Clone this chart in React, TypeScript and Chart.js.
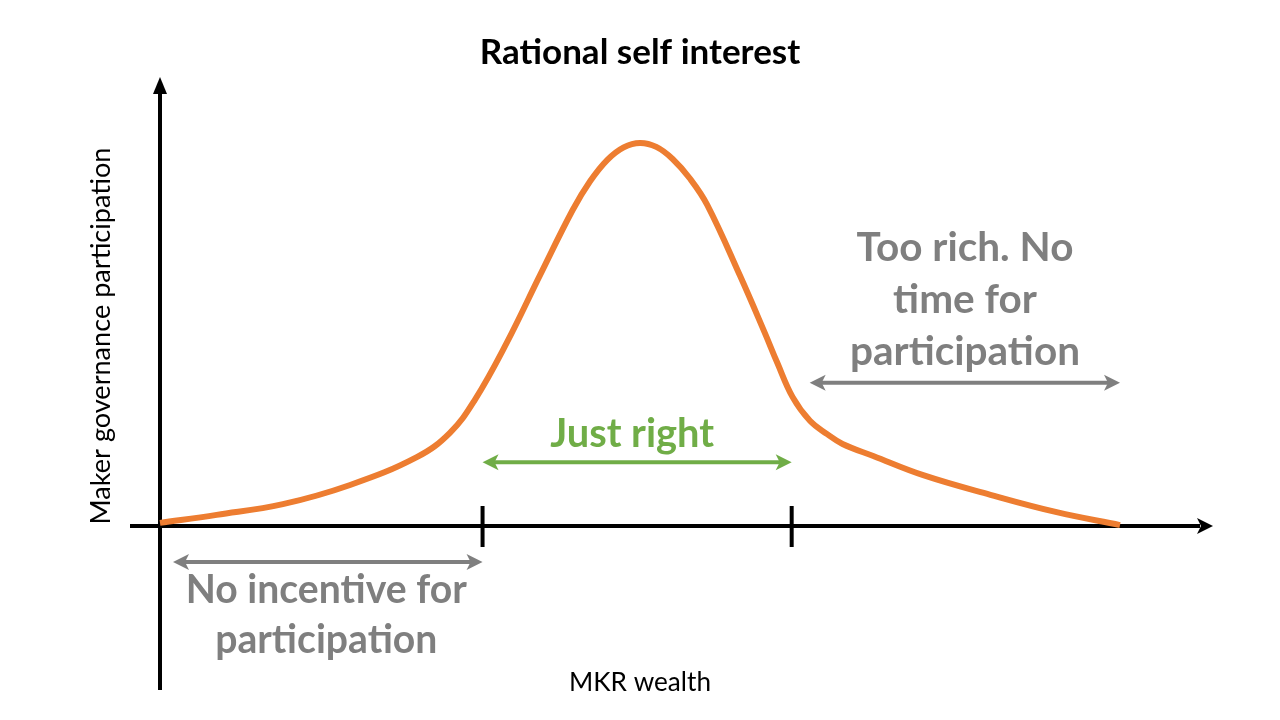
import React, { useEffect, useRef } from "react";
import { Chart, registerables } from "chart.js";

Chart.register(...registerables);

// Curve: MKR wealth (x) vs governance participation (y)
const wealth = [0, 5.9, 12.8, 19.8, 26.8, 30.2, 32.8, 36.1, 39.6, 43.0, 44.8, 46.6, 48.3, 50.0, 51.7, 53.4, 55.2, 57.0, 60.4, 63.0, 64.3, 65.9, 67.7, 69.5, 71.1, 74.3, 79.5, 86.5, 93.4, 100];
const participation = [0.7, 2.5, 4.9, 9.2, 15.5, 20.9, 28.3, 41.0, 56.3, 70.9, 77.3, 82.1, 84.9, 85.9, 85.0, 82.3, 77.9, 72.0, 56.2, 43.3, 36.6, 28.9, 23.6, 20.6, 18.4, 15.7, 11.4, 7.0, 3.1, 0.2];

// Zone boundaries on the wealth axis (tick marks)
const zoneBounds = [33.6, 65.8];

const titleText = "Rational self interest";
const xAxisLabel = "MKR wealth";
const yAxisLabel = "Maker governance participation";
const middleLabel = ["Just right"];
const rightLabel = ["Too rich. No", "time for", "participation"];
const leftLabel = ["No incentive for", "participation"];

const ORANGE = "#ED7D31";
const GREEN = "#70AD47";
const GRAY = "#7F7F7F";
const FONT = "Lato, 'Open Sans', sans-serif";

function fitFont(ctx: CanvasRenderingContext2D, text: string, weight: string, target: number) {
  ctx.font = `${weight} 40px ${FONT}`;
  const w = ctx.measureText(text).width;
  return (40 * target) / w;
}

function drawLines(
  ctx: CanvasRenderingContext2D,
  lines: string[],
  cx: number,
  cy: number,
  lineH: number,
  size: number,
  weight: string,
  color: string
) {
  ctx.save();
  ctx.font = `${weight} ${size}px ${FONT}`;
  ctx.fillStyle = color;
  ctx.textAlign = "center";
  ctx.textBaseline = "middle";
  lines.forEach((l, i) => ctx.fillText(l, cx, cy + i * lineH));
  ctx.restore();
}

function arrowHead(ctx: CanvasRenderingContext2D, tx: number, ty: number, dir: "l" | "r", len: number, half: number) {
  ctx.beginPath();
  if (dir === "r") {
    ctx.moveTo(tx, ty);
    ctx.lineTo(tx - len, ty - half);
    ctx.lineTo(tx - len * 0.75, ty);
    ctx.lineTo(tx - len, ty + half);
  } else {
    ctx.moveTo(tx, ty);
    ctx.lineTo(tx + len, ty - half);
    ctx.lineTo(tx + len * 0.75, ty);
    ctx.lineTo(tx + len, ty + half);
  }
  ctx.closePath();
  ctx.fill();
}

function doubleArrow(ctx: CanvasRenderingContext2D, x1: number, x2: number, y: number, color: string) {
  ctx.save();
  ctx.strokeStyle = color;
  ctx.fillStyle = color;
  ctx.lineWidth = 4;
  ctx.beginPath();
  ctx.moveTo(x1 + 8, y);
  ctx.lineTo(x2 - 8, y);
  ctx.stroke();
  arrowHead(ctx, x1, y, "l", 16, 8);
  arrowHead(ctx, x2, y, "r", 16, 8);
  ctx.restore();
}

const axesPlugin = {
  id: "customAxes",
  beforeDatasetsDraw(chart: any) {
    const ctx = chart.ctx as CanvasRenderingContext2D;
    const xs = chart.scales.x;
    const ys = chart.scales.y;
    const x0 = xs.getPixelForValue(0);
    const y0 = ys.getPixelForValue(0);
    ctx.save();
    ctx.strokeStyle = "#000";
    ctx.fillStyle = "#000";
    ctx.lineWidth = 4;
    // x axis
    ctx.beginPath();
    ctx.moveTo(x0 - 30, y0);
    ctx.lineTo(xs.right + 80, y0);
    ctx.stroke();
    arrowHead(ctx, xs.right + 93, y0, "r", 16, 8);
    // y axis
    ctx.beginPath();
    ctx.moveTo(x0, y0 + 164);
    ctx.lineTo(x0, ys.top + 10);
    ctx.stroke();
    ctx.beginPath();
    ctx.moveTo(x0, ys.top - 3);
    ctx.lineTo(x0 - 7, ys.top + 14);
    ctx.lineTo(x0 + 7, ys.top + 14);
    ctx.closePath();
    ctx.fill();
    // zone ticks
    zoneBounds.forEach((v) => {
      const px = xs.getPixelForValue(v);
      ctx.beginPath();
      ctx.moveTo(px, y0 - 20);
      ctx.lineTo(px, y0 + 21);
      ctx.stroke();
    });
    ctx.restore();
  },
  afterDatasetsDraw(chart: any) {
    const ctx = chart.ctx as CanvasRenderingContext2D;
    const xs = chart.scales.x;
    const ys = chart.scales.y;
    const x0 = xs.getPixelForValue(0);
    const y0 = ys.getPixelForValue(0);
    const b1 = xs.getPixelForValue(zoneBounds[0]);
    const b2 = xs.getPixelForValue(zoneBounds[1]);
    const xEnd = xs.getPixelForValue(100);

    // arrows
    doubleArrow(ctx, b1, b2, ys.getPixelForValue(14.3), GREEN);
    doubleArrow(ctx, b2 + 18, xEnd, ys.getPixelForValue(32.1), GRAY);
    doubleArrow(ctx, x0 + 13, b1, y0 + 36, GRAY);

    // labels
    const gSize = fitFont(ctx, middleLabel[0], "bold", 164);
    drawLines(ctx, middleLabel, (b1 + b2) / 2 - 5, ys.getPixelForValue(20.5), 52, gSize, "bold", GREEN);

    const rSize = fitFont(ctx, rightLabel[2], "bold", 230);
    drawLines(ctx, rightLabel, 965, ys.getPixelForValue(62.3), 52, rSize, "bold", GRAY);

    const lSize = fitFont(ctx, leftLabel[0], "bold", 281);
    drawLines(ctx, leftLabel, (x0 + b1) / 2 + 5, y0 + 64, 50, lSize, "bold", GRAY);

    const xlSize = fitFont(ctx, xAxisLabel, "normal", 142);
    drawLines(ctx, [xAxisLabel], (xs.left + xs.right) / 2, y0 + 157, 0, xlSize, "normal", "#000");

    const ylSize = fitFont(ctx, yAxisLabel, "normal", 377);
    ctx.save();
    ctx.translate(101, y0 - 190);
    ctx.rotate(-Math.PI / 2);
    drawLines(ctx, [yAxisLabel], 0, 0, 0, ylSize, "normal", "#000");
    ctx.restore();
  },
};

export default function App() {
  const ref = useRef<HTMLCanvasElement | null>(null);
  useEffect(() => {
    if (!ref.current) return;
    const chart = new Chart(ref.current, {
      type: "scatter",
      data: {
        datasets: [
          {
            data: wealth.map((w, i) => ({ x: w, y: participation[i] })),
            showLine: true,
            borderColor: ORANGE,
            borderWidth: 6,
            pointRadius: 0,
            tension: 0.4,
            clip: false as any,
            borderCapStyle: "butt",
            borderJoinStyle: "round",
          } as any,
        ],
      },
      options: {
        animation: false,
        responsive: true,
        maintainAspectRatio: false,
        layout: { padding: { left: 160, right: 160, bottom: 194, top: 0 } },
        scales: {
          x: { type: "linear", min: 0, max: 100, display: false },
          y: { type: "linear", min: 0, max: 100, display: false },
        },
        plugins: {
          legend: { display: false },
          tooltip: { enabled: false },
          title: {
            display: true,
            text: titleText,
            color: "#000",
            font: { family: FONT, size: 35, weight: "bold" },
            padding: { top: 32, bottom: 6 },
          },
        },
      },
      plugins: [axesPlugin],
    });
    return () => chart.destroy();
  }, []);
  return (
    <div style={{ position: "fixed", left: 0, top: 0, width: 1280, height: 720, background: "#fff" }}>
      <canvas ref={ref} />
    </div>
  );
}
